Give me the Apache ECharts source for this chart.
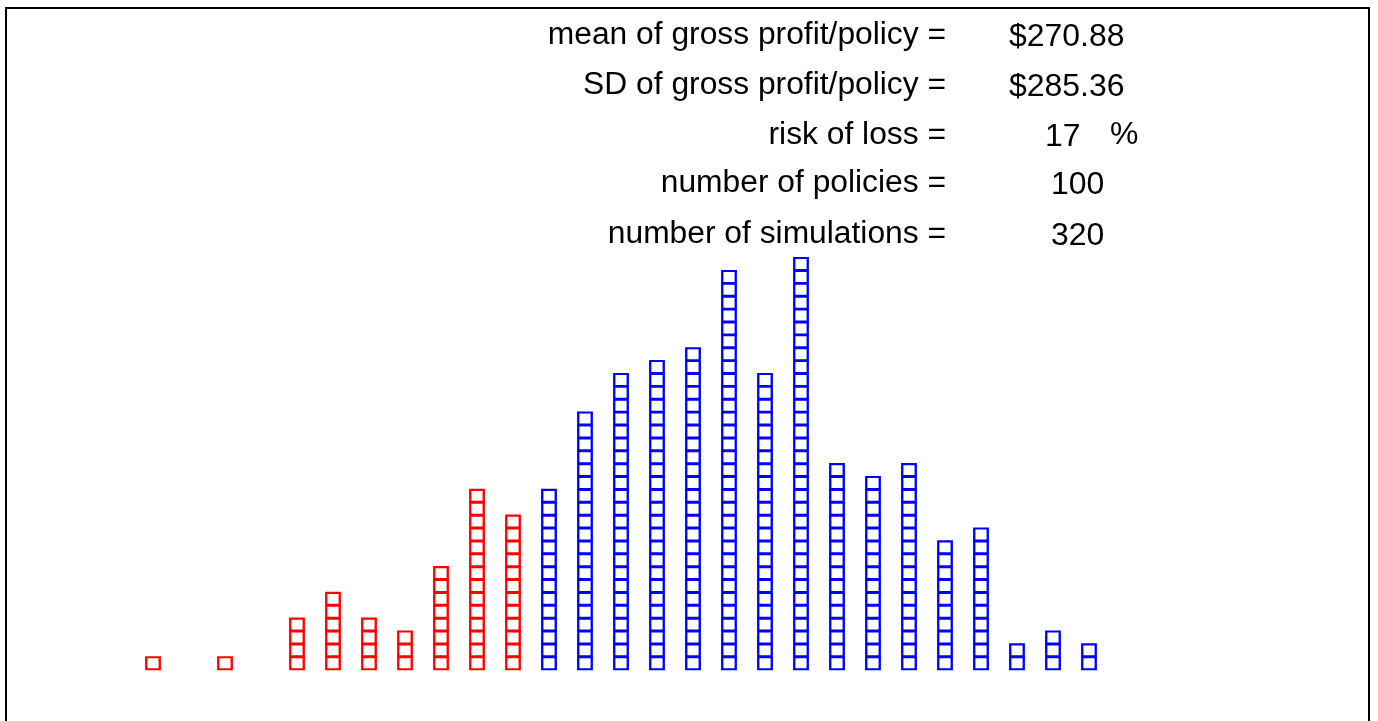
<!DOCTYPE html>
<html>
<head>
<meta charset="utf-8">
<script src="https://cdn.jsdelivr.net/npm/echarts@6/dist/echarts.min.js"></script>
<style>
html,body{margin:0;padding:0;background:#fff;}
#chart{width:1378px;height:721px;}
</style>
</head>
<body>
<div id="chart"></div>
<script>
// bin positions (profit bins) and counts of simulations in each bin
const lossBins = [0, 2, 4, 5, 6, 7, 8, 9, 10];
const lossCounts = [1, 1, 4, 6, 4, 3, 8, 14, 12];
const profitBins = [11, 12, 13, 14, 15, 16, 17, 18, 19, 20, 21, 22, 23, 24, 25, 26];
const profitCounts = [14, 20, 23, 24, 25, 31, 23, 32, 16, 15, 16, 10, 11, 2, 3, 2];

const statLabels = ["mean of gross profit/policy =", "SD of gross profit/policy =", "risk of loss =", "number of policies =", "number of simulations ="];
const statValues = ["$270.88", "$285.36", "17", "100", "320"];

function stack(bins, counts) {
  const pts = [];
  bins.forEach((b, i) => { for (let k = 0; k < counts[i]; k++) pts.push([b, k]); });
  return pts;
}

const chart = echarts.init(document.getElementById('chart'));
const font = '31px Liberation Sans, Arial, sans-serif';
const rowsY = [35, 85, 135, 183, 234];
const valueX = [1009, 1009, 1045, 1051, 1051];
const graphics = [
  {type: 'rect', shape: {x: 6, y: 8, width: 1363, height: 740}, style: {fill: 'none', stroke: '#000', lineWidth: 2}, silent: true}
];
statLabels.forEach((t, i) => {
  graphics.push({type: 'text', x: 946, y: rowsY[i], scaleX: 1.025, style: {text: t, fill: '#000', font: font, textAlign: 'right', textVerticalAlign: 'middle'}});
  graphics.push({type: 'text', x: valueX[i], y: rowsY[i] + 2, scaleX: 1.03, style: {text: statValues[i], fill: '#000', font: font, textAlign: 'left', textVerticalAlign: 'middle'}});
});
graphics.push({type: 'text', x: 1110, y: rowsY[2], scaleX: 1.03, style: {text: '%', fill: '#000', font: font, textAlign: 'left', textVerticalAlign: 'middle'}});

chart.setOption({
  animation: false,
  backgroundColor: '#fff',
  grid: {left: 9, right: 1, top: 45.1, bottom: 6.2},
  xAxis: {type: 'value', min: -4, max: 34, show: false},
  yAxis: {type: 'value', min: -4, max: 48, show: false},
  graphic: graphics,
  series: [
    {type: 'scatter', symbol: 'rect', symbolSize: [13.5, 12], data: stack(lossBins, lossCounts),
     itemStyle: {color: 'rgba(0,0,0,0)', borderColor: '#ff0000', borderWidth: 2.2, opacity: 1}},
    {type: 'scatter', symbol: 'rect', symbolSize: [13.5, 12], data: stack(profitBins, profitCounts),
     itemStyle: {color: 'rgba(0,0,0,0)', borderColor: '#0000ff', borderWidth: 2.2, opacity: 1}}
  ]
});
</script>
</body>
</html>
